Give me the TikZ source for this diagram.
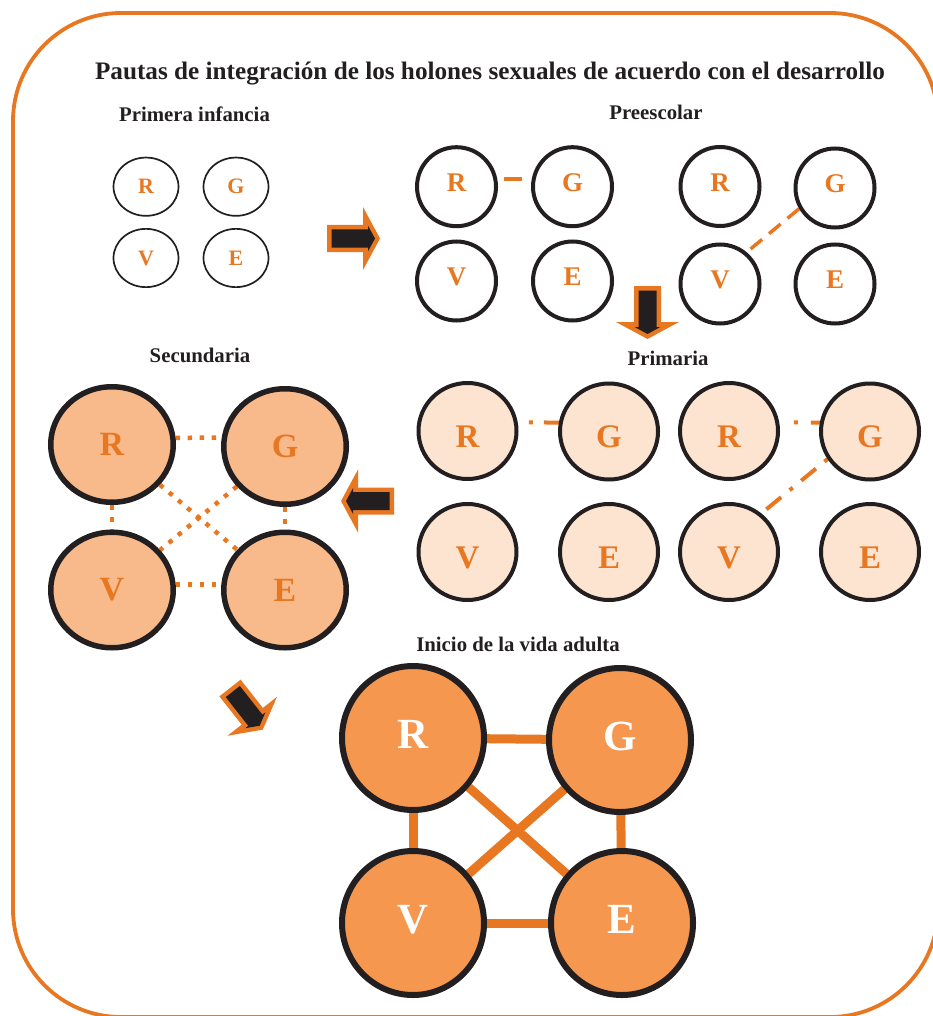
\documentclass[tikz,border=0pt]{standalone}
\usepackage{fontspec}
\setmainfont{Liberation Serif}
\usetikzlibrary{shapes.geometric}
\definecolor{orng}{RGB}{232,119,34}
\definecolor{ink}{RGB}{35,31,32}
\definecolor{peach}{RGB}{253,228,208}
\definecolor{salmon}{RGB}{249,186,139}
\definecolor{tang}{RGB}{245,151,79}
\pgfdeclarelayer{bg}
\pgfsetlayers{bg,main}
\begin{document}
\begin{tikzpicture}[x=1pt,y=-1pt,
  hol/.style={ellipse, draw=ink, inner sep=0pt, text=orng},
  hA/.style={hol, line width=1.7pt, minimum width=65pt, minimum height=58.3pt, font=\fontsize{22}{22}\selectfont\bfseries},
  hB/.style={hol, line width=4pt, minimum width=79pt, minimum height=79pt, text height=17.9pt, text depth=8pt, font=\fontsize{27}{27}\selectfont\bfseries},
  hC/.style={hol, fill=peach, line width=4pt, minimum width=98pt, minimum height=96pt, text height=32.8pt, text depth=0pt, font=\fontsize{33}{33}\selectfont\bfseries},
  hD/.style={hol, fill=salmon, line width=5.5pt, minimum width=122.5pt, minimum height=115.5pt, font=\fontsize{34}{34}\selectfont\bfseries},
  hE/.style={hol, fill=tang, text=white, line width=6pt, minimum width=142pt, minimum height=144pt, text height=28.5pt, text depth=7pt, font=\fontsize{43}{43}\selectfont\bfseries},
  ttl/.style={font=\fontsize{20.8}{21}\selectfont\bfseries, text=ink, anchor=base, inner sep=0pt},
  dotsq/.style={orng, line width=4.5pt, dash pattern=on 4.5pt off 7.5pt},
  thin/.style={orng, line width=4pt},
  bar/.style={orng, line width=9pt},
  fatarrow/.pic={
    \fill[orng] (0,-13.5) -- (36,-13.5) -- (36,-31.5) -- (53,0) -- (36,31.5) -- (36,13.5) -- (0,13.5) -- cycle;
    \fill[ink] (4.5,-9) -- (41,-9) -- (41,-12.8) -- (48,0) -- (41,12.8) -- (41,9) -- (4.5,9) -- cycle;}
]
\useasboundingbox (0,0) rectangle (933,1016);
\draw[orng, line width=3.8pt, rounded corners=108pt] (13,13) rectangle (938,1017);

% headings
\node[ttl, font=\fontsize{25.2}{26}\selectfont\bfseries] (title) at (490,80) {Pautas de integración de los holones sexuales de acuerdo con el desarrollo};
\node[ttl] (t1) at (194.5,122) {Primera infancia};
\node[ttl] (t2) at (656,120) {Preescolar};
\node[ttl] (t3) at (200,362) {Secundaria};
\node[ttl] (t4) at (668,365) {Primaria};
\node[ttl] (t5) at (518,651) {Inicio de la vida adulta};

% Primera infancia
\node[hA] (aR) at (146,186.7) {R};
\node[hA] (aG) at (236,186.7) {G};
\node[hA] (aV) at (146,258) {V};
\node[hA] (aE) at (236,258) {E};

% Preescolar
\node[hB] (bR) at (456.5,186.7) {R};
\node[hB] (bG) at (572.5,186.7) {G};
\node[hB] (bV) at (456.5,281) {V};
\node[hB] (bE) at (572.5,281) {E};
\node[hB] (cR) at (720,186.5) {R};
\node[hB] (cG) at (835,188) {G};
\node[hB] (cV) at (720,284) {V};
\node[hB] (cE) at (835,284) {E};

% Primaria
\node[hC] (dR) at (467.5,431) {R};
\node[hC] (dG) at (609,431.5) {G};
\node[hC] (dV) at (467.5,552) {V};
\node[hC] (dE) at (609,552) {E};
\node[hC] (eR) at (729,431) {R};
\node[hC] (eG) at (870,431.5) {G};
\node[hC] (eV) at (729,552) {V};
\node[hC] (eE) at (870,552) {E};

% Secundaria
\node[hD] (fR) at (112,444.5) {R};
\node[hD] (fG) at (285,446.5) {G};
\node[hD] (fV) at (112,590) {V};
\node[hD] (fE) at (285,590) {E};

% Inicio de la vida adulta
\node[hE] (gR) at (413,738) {R};
\node[hE] (gG) at (620,740) {G};
\node[hE] (gV) at (413,923) {V};
\node[hE] (gE) at (622,923) {E};

\begin{pgfonlayer}{bg}
  \draw[thin, shorten <=7pt, shorten >=10pt] (bR.10) -- (bG.170);
  \draw[thin, line width=3.5pt, dash pattern=on 15pt off 9pt] (cG.210) -- (cV.50);
  \draw[thin, dash pattern=on 15pt off 11pt on 4pt off 30pt] (dG.170) -- (dR.10);
  \draw[thin, dash pattern=on 9pt off 13pt on 4pt off 30pt] (eG.170) -- (eR.10);
  \draw[thin, dash pattern=on 4pt off 11pt on 19pt off 11pt] (eG.213) -- (eV.50);
  \draw[dotsq] (fR.6) -- (fG.172);
  \draw[dotsq] (fR) -- (fV);
  \draw[dotsq] (fG) -- (fE);
  \draw[dotsq] (fV.5) -- (fE.175);
  \draw[dotsq] (fR) -- (fE);
  \draw[dotsq] (fG) -- (fV);
  \draw[bar] (gR) -- (gG);
  \draw[bar] (gR) -- (gV);
  \draw[bar] (gG) -- (gE);
  \draw[bar] (gV) -- (gE);
  \draw[bar] (gR) -- (gE);
  \draw[bar] (gG) -- (gV);
\end{pgfonlayer}

% arrows
\pic at (327,238.5) {fatarrow};
\pic[rotate=-90] at (647.5,286) {fatarrow};
\pic[rotate=180] at (394,501) {fatarrow};
\pic[rotate=-51.8] at (230,688) {fatarrow};
\end{tikzpicture}
\end{document}
